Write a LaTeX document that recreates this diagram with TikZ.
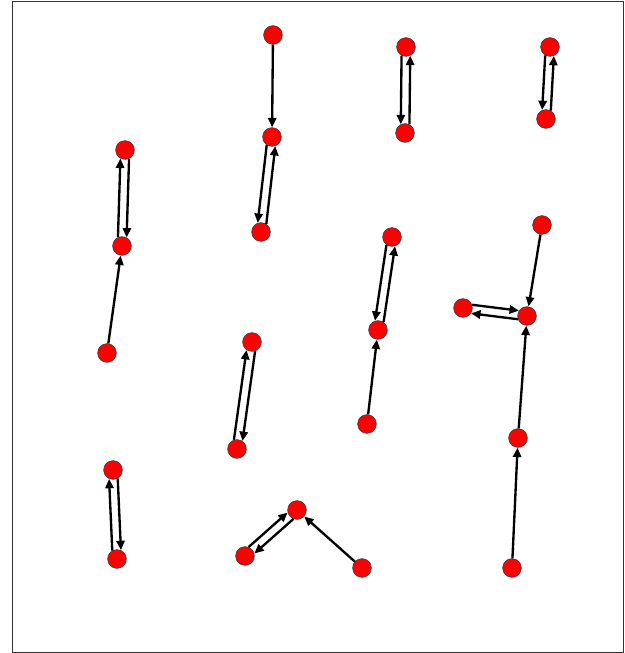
\documentclass[tikz,border=0pt]{standalone}
\usepackage{tikz}
\usetikzlibrary{arrows.meta,calc}
\definecolor{nodered}{HTML}{FF0000}

% two opposite arrows side by side, #3 = side (90 or -90)
\newcommand{\twoway}[3]{%
  \draw[edge,shorten <=0.26cm,shorten >=0.26cm] ($(#1)!0.13cm!#3:(#2)$)--($(#2)!0.13cm!#3+180:(#1)$);
  \draw[edge,shorten <=0.26cm,shorten >=0.26cm] ($(#2)!0.13cm!#3:(#1)$)--($(#1)!0.13cm!#3+180:(#2)$);}

\begin{document}
\begin{tikzpicture}[x=0.03cm,y=-0.03cm,
  vtx/.style={circle,fill=nodered,draw=black!75,line width=0.6pt,minimum size=0.56cm,inner sep=0pt},
  edge/.style={-{Triangle[length=8pt,width=7pt]},line width=2pt,black}]
\useasboundingbox (0,0) rectangle (624,653);
\draw[line width=0.8pt,black!80] (12.5,1) rectangle (623,652);
% left column
\node[vtx] (A1) at (125,150) {};
\node[vtx] (A2) at (122,246) {};
\node[vtx] (A3) at (107,353) {};
\node[vtx] (H1) at (113,470) {};
\node[vtx] (H2) at (117,559) {};
% second column
\node[vtx] (B1) at (273,35) {};
\node[vtx] (B2) at (272,137) {};
\node[vtx] (B3) at (261,232) {};
\node[vtx] (F1) at (252,342) {};
\node[vtx] (F2) at (237,449) {};
\node[vtx] (I1) at (297,510) {};
\node[vtx] (I2) at (245,556) {};
\node[vtx] (I3) at (362,568) {};
% third column
\node[vtx] (C1) at (406,47) {};
\node[vtx] (C2) at (405,133) {};
\node[vtx] (G1) at (392,237) {};
\node[vtx] (G2) at (378,330) {};
\node[vtx] (G3) at (367,424) {};
% right column
\node[vtx] (D1) at (550,47) {};
\node[vtx] (D2) at (546,119) {};
\node[vtx] (E1) at (542,225) {};
\node[vtx] (E2) at (527,316) {};
\node[vtx] (E3) at (463,308) {};
\node[vtx] (E4) at (518,438) {};
\node[vtx] (E5) at (512,568) {};
% connectors
\draw[edge] (A3)--(A2);
\twoway{A1}{A2}{90}
\twoway{H1}{H2}{90}
\draw[edge] (B1)--(B2);
\twoway{B2}{B3}{-90}
\twoway{F1}{F2}{90}
\twoway{I1}{I2}{90}
\draw[edge] (I3)--(I1);
\twoway{C1}{C2}{-90}
\twoway{G1}{G2}{-90}
\draw[edge] (G3)--(G2);
\twoway{D1}{D2}{-90}
\draw[edge] (E1)--(E2);
\twoway{E3}{E2}{90}
\draw[edge] (E4)--(E2);
\draw[edge] (E5)--(E4);
\end{tikzpicture}
\end{document}
